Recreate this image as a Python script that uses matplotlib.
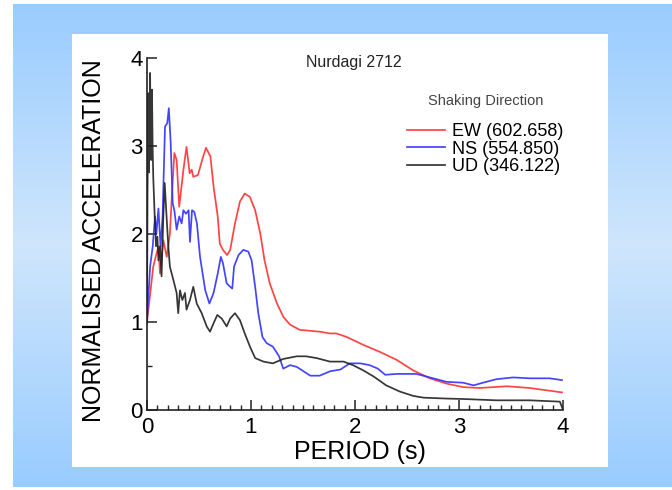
import numpy as np
import matplotlib
matplotlib.use("Agg")
import matplotlib.pyplot as plt
from matplotlib.colors import LinearSegmentedColormap
from matplotlib.patches import Rectangle

plt.rcParams['font.family'] = ['Liberation Sans', 'DejaVu Sans']

# ---- data (period in s, normalised acceleration) ----
ew_t = [0, 0.06, 0.11, 0.125, 0.157, 0.19, 0.22, 0.237, 0.263, 0.285, 0.31, 0.35, 0.38, 0.41,
        0.43, 0.445, 0.49, 0.53, 0.567, 0.61, 0.64, 0.68, 0.70, 0.73, 0.77, 0.80, 0.846, 0.894,
        0.94, 0.99, 1.04, 1.09, 1.13, 1.18, 1.25, 1.31, 1.375, 1.47, 1.57, 1.66, 1.76, 1.82,
        1.92, 2.08, 2.24, 2.40, 2.56, 2.72, 2.88, 3.04, 3.2, 3.46, 3.68, 3.99]
ew_a = [1.0, 1.63, 1.86, 1.55, 1.93, 1.74, 2.0, 2.39, 2.92, 2.84, 2.31, 2.73, 2.99, 2.69,
        2.73, 2.65, 2.67, 2.84, 2.98, 2.88, 2.54, 2.2, 1.89, 1.82, 1.76, 1.82, 2.12, 2.37,
        2.46, 2.42, 2.27, 2.0, 1.70, 1.44, 1.21, 1.06, 0.97, 0.91, 0.90, 0.89, 0.87, 0.87,
        0.83, 0.74, 0.66, 0.57, 0.45, 0.36, 0.30, 0.26, 0.25, 0.27, 0.25, 0.20]

ns_t = [0, 0.03, 0.055, 0.077, 0.09, 0.11, 0.13, 0.15, 0.173, 0.195, 0.21, 0.228, 0.247, 0.263,
        0.285, 0.31, 0.333, 0.35, 0.375, 0.40, 0.413, 0.433, 0.455, 0.48, 0.51, 0.56, 0.60,
        0.64, 0.68, 0.71, 0.73, 0.766, 0.80, 0.82, 0.837, 0.88, 0.926, 0.974, 1.006, 1.04,
        1.07, 1.11, 1.15, 1.21, 1.27, 1.31, 1.375, 1.44, 1.57, 1.66, 1.76, 1.86, 1.95, 2.05,
        2.14, 2.22, 2.29, 2.40, 2.59, 2.72, 2.88, 3.04, 3.14, 3.23, 3.36, 3.52, 3.68, 3.87, 3.99]
ns_a = [1.02, 1.63, 1.86, 2.2, 2.0, 2.29, 1.86, 2.2, 3.22, 3.26, 3.43, 3.03, 2.35, 2.27,
        2.05, 2.2, 2.12, 2.27, 2.23, 2.27, 1.91, 2.27, 2.25, 2.12, 1.74, 1.36, 1.21,
        1.33, 1.55, 1.74, 1.67, 1.44, 1.40, 1.38, 1.63, 1.76, 1.82, 1.80, 1.70, 1.40,
        1.10, 0.83, 0.76, 0.72, 0.61, 0.47, 0.51, 0.49, 0.39, 0.39, 0.44, 0.46, 0.53, 0.53,
        0.51, 0.47, 0.40, 0.41, 0.41, 0.37, 0.32, 0.31, 0.28, 0.31, 0.35, 0.37, 0.36, 0.36, 0.34]

ud_t = [0, 0.005, 0.013, 0.018, 0.022, 0.03, 0.035, 0.04, 0.048, 0.054, 0.06, 0.074, 0.087,
        0.1, 0.11, 0.125, 0.14, 0.157, 0.17, 0.19, 0.205, 0.22, 0.253, 0.285, 0.30, 0.317,
        0.34, 0.365, 0.38, 0.413, 0.445, 0.478, 0.526, 0.574, 0.606, 0.638, 0.676, 0.718,
        0.766, 0.80, 0.846, 0.894, 0.94, 0.99, 1.04, 1.12, 1.21, 1.31, 1.44, 1.53, 1.63,
        1.76, 1.89, 1.98, 2.08, 2.18, 2.30, 2.43, 2.56, 2.66, 2.88, 3.04, 3.36, 3.68, 3.97, 4.0]
ud_a = [0.98, 2.46, 3.6, 2.7, 3.03, 3.83, 2.9, 2.84, 3.64, 3.0, 2.65, 2.2, 1.86,
        1.97, 1.70, 1.86, 1.52, 2.2, 2.58, 2.16, 1.86, 1.63, 1.48, 1.33, 1.10, 1.36,
        1.25, 1.33, 1.14, 1.25, 1.40, 1.21, 1.10, 0.95, 0.89, 0.98, 1.08, 1.04,
        0.95, 1.04, 1.10, 1.02, 0.87, 0.72, 0.59, 0.55, 0.53, 0.58, 0.61, 0.61, 0.59,
        0.55, 0.55, 0.51, 0.45, 0.38, 0.28, 0.21, 0.16, 0.14, 0.13, 0.125, 0.11, 0.11, 0.095, 0.0]

labels = ["EW (602.658)", "NS (554.850)", "UD (346.122)"]
colors = ["#ff3030", "#3030ff", "#202020"]

W, H = 672, 490
fig = plt.figure(figsize=(W / 100, H / 100), dpi=100)
fig.patch.set_facecolor("white")

def fx(px):
    return px / W

def fy(py):
    return 1 - py / H

# blue gradient background
bg = fig.add_axes([fx(13), fy(487), fx(672) - fx(13), fy(4) - fy(487)])
bg.set_axis_off()
cmap = LinearSegmentedColormap.from_list("bg", ["#99ccff", "#cfe6fc", "#99ccff"])
grad = np.linspace(0, 1, 256).reshape(-1, 1)
bg.imshow(grad, aspect="auto", cmap=cmap, extent=[0, 1, 0, 1])
bg.add_patch(Rectangle(((72 - 13) / (672 - 13), (487 - 467) / (487 - 4)),
                       (608 - 72) / (672 - 13), (467 - 34) / (487 - 4),
                       facecolor="white", edgecolor="none"))
bg.set_xlim(0, 1)
bg.set_ylim(0, 1)

ax = fig.add_axes([fx(147), fy(410), fx(563) - fx(147), fy(58) - fy(410)])
ax.set_facecolor("none")
lines = []
for t, a, c in [(ew_t, ew_a, colors[0]), (ns_t, ns_a, colors[1]), (ud_t, ud_a, colors[2])]:
    ln, = ax.plot(t, a, color=c, lw=1.25, alpha=0.9, solid_joinstyle="round")
    lines.append(ln)

ax.set_xlim(0, 4)
ax.set_ylim(0, 4)
for s in ["top", "right"]:
    ax.spines[s].set_visible(False)
for s in ["left", "bottom"]:
    ax.spines[s].set_linewidth(1.2)
    ax.spines[s].set_color("#222222")
ax.set_xticks([0, 1, 2, 3, 4])
ax.set_yticks([0, 1, 2, 3, 4])
ax.set_xticks(np.arange(0, 4.01, 0.1), minor=True)
ax.set_yticks([0.5], minor=True)
ax.tick_params(which="major", direction="in", length=7, width=1.1, labelsize=16, pad=5, color="#222222")
ax.tick_params(which="minor", direction="in", length=3.5, width=1.0, color="#222222")
ax.tick_params(axis="y", which="major", pad=3)
ax.set_xlabel("PERIOD (s)", fontsize=18)
ax.set_ylabel("NORMALISED ACCELERATION", fontsize=18)
ax.xaxis.set_label_coords((360 - 147) / 416, -(452 - 410) / 352, transform=ax.transAxes)
ax.yaxis.set_label_coords((94 - 147) / 416, (410 - 241) / 352, transform=ax.transAxes)
ax.xaxis.label.set_va("center")
ax.yaxis.label.set_va("center")

fig.text(fx(354), fy(63), "Nurdagi 2712", fontsize=11.5, ha="center", va="center", color="#222222")

leg = ax.legend(lines, labels, title="Shaking Direction", loc="upper left",
                bbox_to_anchor=(fx(407), fy(94)), bbox_transform=fig.transFigure,
                frameon=False, fontsize=13, title_fontsize=10.5, handlelength=2.1,
                handletextpad=0.4, labelspacing=0.02, borderaxespad=0, borderpad=0)
leg.get_title().set_color("#444444")
leg._legend_box.sep = 11

fig.savefig("out.png", dpi=100)
